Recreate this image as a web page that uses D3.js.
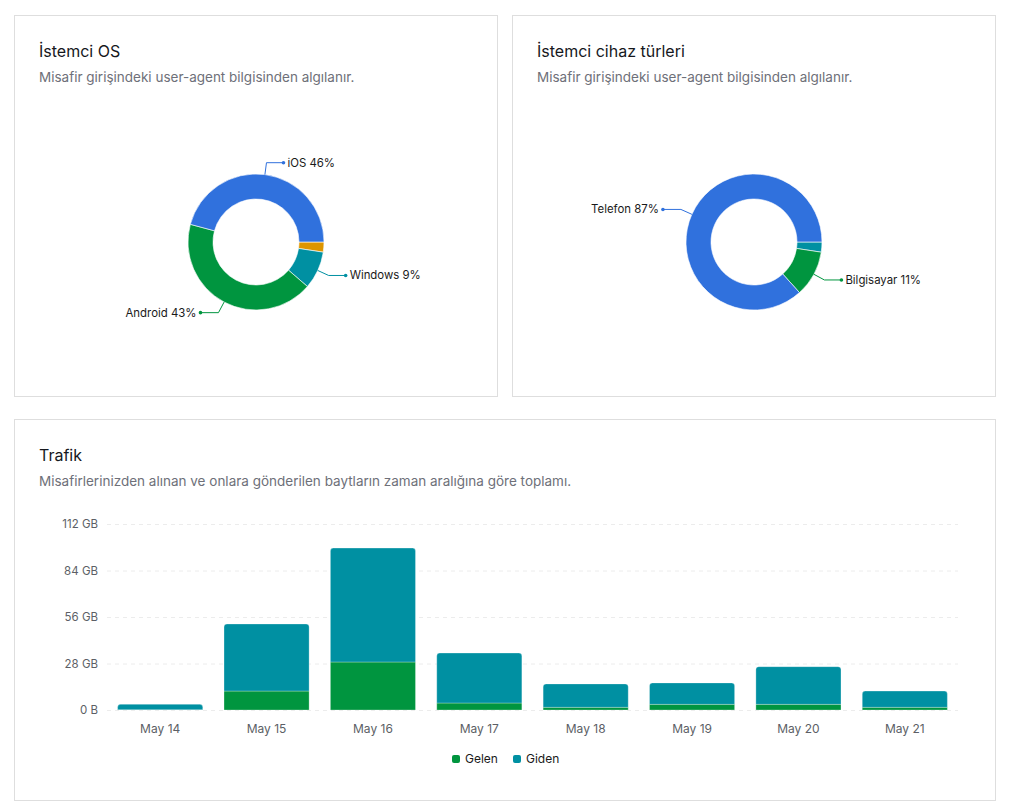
<!DOCTYPE html>
<html>
<head>
<meta charset="utf-8">
<script src="https://cdn.jsdelivr.net/npm/d3@7"></script>
<style>
  body { margin: 0; background: #fff; font-family: Inter, "Noto Sans", sans-serif; }
  svg text { font-family: Inter, "Noto Sans", sans-serif; }
</style>
</head>
<body>
<div id="chart"></div>
<script>
// Donut data (percent)
const osLabels = ['Diğer', 'Windows', 'Android', 'iOS']
const osValues = [2.4, 9, 43, 46]
const osColors = ['#dd9500', '#0090a2', '#00953f', '#3071dd']

const deviceLabels = ['Diğer', 'Bilgisayar', 'Telefon']
const deviceValues = [2.4, 11, 87]
const deviceColors = ['#0090a2', '#00953f', '#3071dd']

// Traffic data (GB)
const days = ['May 14', 'May 15', 'May 16', 'May 17', 'May 18', 'May 19', 'May 20', 'May 21']
const gelen = [0.2, 11.4, 28.9, 4.2, 1.6, 3.4, 3.4, 1.6]
const giden = [3.2, 40.4, 68.6, 30.1, 14.1, 12.9, 22.7, 9.8]
const yTicks = [0, 28, 56, 84, 112]
const seriesNames = ['Gelen', 'Giden']
const seriesColors = ['#00953f', '#0090a2']

const W = 1009, H = 810

const svg = d3.select('#chart').append('svg')
    .attr('width', W)
    .attr('height', H)

// cards
const cards = [
    {x: 14.5, y: 15.5, w: 483, h: 381, title: 'İstemci OS', sub: 'Misafir girişindeki user-agent bilgisinden algılanır.'},
    {x: 512.5, y: 15.5, w: 483, h: 381, title: 'İstemci cihaz türleri', sub: 'Misafir girişindeki user-agent bilgisinden algılanır.'},
    {x: 14.5, y: 419.5, w: 981, h: 381, title: 'Trafik', sub: 'Misafirlerinizden alınan ve onlara gönderilen baytların zaman aralığına göre toplamı.'}
]

cards.forEach(c => {
    svg.append('rect')
        .attr('x', c.x).attr('y', c.y)
        .attr('width', c.w).attr('height', c.h)
        .attr('fill', '#fff')
        .attr('stroke', '#dedede')
    svg.append('text')
        .attr('x', c.x + 24.5).attr('y', c.y + 41)
        .attr('font-size', 16)
        .attr('fill', '#16181d')
        .text(c.title)
    svg.append('text')
        .attr('x', c.x + 24.5).attr('y', c.y + 66)
        .attr('font-size', 13.5)
        .attr('fill', '#6e7079')
        .text(c.sub)
})

// donut helper
function donut(cx, cy, labels, values, colors) {
    const g = svg.append('g').attr('transform', 'translate(' + cx + ',' + cy + ')')
    const rOut = 68, rIn = 43
    const pie = d3.pie().sort(null)
        .startAngle(Math.PI / 2)
        .endAngle(Math.PI / 2 + 2 * Math.PI)
    const arcs = pie(values)
    const arc = d3.arc().innerRadius(rIn).outerRadius(rOut)
    const total = d3.sum(values)

    g.selectAll('path.slice')
        .data(arcs)
        .join('path')
        .attr('class', 'slice')
        .attr('d', arc)
        .attr('fill', (d, i) => colors[i])
        .attr('stroke', '#fff')
        .attr('stroke-width', 0.6)

    arcs.forEach((d, i) => {
        if (d.value / total < 0.05) return
        const a = (d.startAngle + d.endAngle) / 2
        const p1 = [rOut * Math.sin(a), -rOut * Math.cos(a)]
        const p2 = [(rOut + 12) * Math.sin(a), -(rOut + 12) * Math.cos(a)]
        const right = Math.sin(a) >= 0
        const p3 = [p2[0] + (right ? 17 : -18), p2[1]]
        g.append('polyline')
            .attr('points', [p1, p2, p3].map(p => p.join(',')).join(' '))
            .attr('fill', 'none')
            .attr('stroke', colors[i])
            .attr('stroke-width', 1)
        g.append('circle')
            .attr('cx', p3[0]).attr('cy', p3[1]).attr('r', 1.8)
            .attr('fill', colors[i])
        g.append('text')
            .attr('x', p3[0] + (right ? 4 : -4))
            .attr('y', p3[1])
            .attr('dy', '0.35em')
            .attr('text-anchor', right ? 'start' : 'end')
            .attr('font-size', 11.4)
            .attr('fill', '#1a1a1a')
            .text(labels[i] + ' ' + Math.round(d.value / total * 100) + '%')
    })
}

donut(256, 242, osLabels, osValues, osColors)
donut(754, 242, deviceLabels, deviceValues, deviceColors)

// traffic bars
const x = d3.scaleBand()
    .domain(days)
    .range([107, 958])
    .paddingInner(0.2)
    .paddingOuter(0.1)

const y = d3.scaleLinear()
    .domain([0, 112])
    .range([710, 524])

const bars = svg.append('g')

// grid + y labels
bars.selectAll('line.grid')
    .data(yTicks)
    .join('line')
    .attr('class', 'grid')
    .attr('x1', 107).attr('x2', 958)
    .attr('y1', d => y(d) + 0.5).attr('y2', d => y(d) + 0.5)
    .attr('stroke', '#ececec')
    .attr('stroke-dasharray', '4,4')

bars.selectAll('text.ylab')
    .data(yTicks)
    .join('text')
    .attr('class', 'ylab')
    .attr('x', 98)
    .attr('y', d => y(d))
    .attr('dy', '0.35em')
    .attr('text-anchor', 'end')
    .attr('font-size', 11.5)
    .attr('fill', '#5c5f66')
    .text(d => d === 0 ? '0 B' : d + ' GB')

const stackData = days.map((d, i) => ({day: d, Gelen: gelen[i], Giden: giden[i]}))
const stack = d3.stack().keys(seriesNames)(stackData)

function topRounded(x0, y0, w, h, r) {
    r = Math.min(r, h, w / 2)
    return 'M' + x0 + ',' + (y0 + h) +
        'V' + (y0 + r) +
        'Q' + x0 + ',' + y0 + ' ' + (x0 + r) + ',' + y0 +
        'H' + (x0 + w - r) +
        'Q' + (x0 + w) + ',' + y0 + ' ' + (x0 + w) + ',' + (y0 + r) +
        'V' + (y0 + h) + 'Z'
}

stack.forEach((layer, li) => {
    bars.selectAll('path.s' + li)
        .data(layer)
        .join('path')
        .attr('class', 's' + li)
        .attr('d', d => {
            const x0 = x(d.data.day), w = x.bandwidth()
            const y0 = y(d[1]), h = y(d[0]) - y(d[1])
            return li === stack.length - 1 ? topRounded(x0, y0, w, h, 3) : topRounded(x0, y0, w, h, 0)
        })
        .attr('fill', seriesColors[li])
        .attr('stroke', '#fff')
        .attr('stroke-opacity', 0.35)
        .attr('stroke-width', 0.8)
})

bars.selectAll('text.xlab')
    .data(days)
    .join('text')
    .attr('class', 'xlab')
    .attr('x', d => x(d) + x.bandwidth() / 2)
    .attr('y', 729)
    .attr('dy', '0.35em')
    .attr('text-anchor', 'middle')
    .attr('font-size', 12)
    .attr('fill', '#5c5f66')
    .text(d => d)

// legend
const legend = svg.append('g').attr('transform', 'translate(452,759)')
const legendX = [0, 61]
seriesNames.forEach((s, i) => {
    legend.append('rect')
        .attr('x', legendX[i]).attr('y', -4)
        .attr('width', 8).attr('height', 8)
        .attr('rx', 2)
        .attr('fill', seriesColors[i])
    legend.append('text')
        .attr('x', legendX[i] + 13).attr('y', 0)
        .attr('dy', '0.35em')
        .attr('font-size', 12)
        .attr('fill', '#1a1a1a')
        .text(s)
})
</script>
</body>
</html>
